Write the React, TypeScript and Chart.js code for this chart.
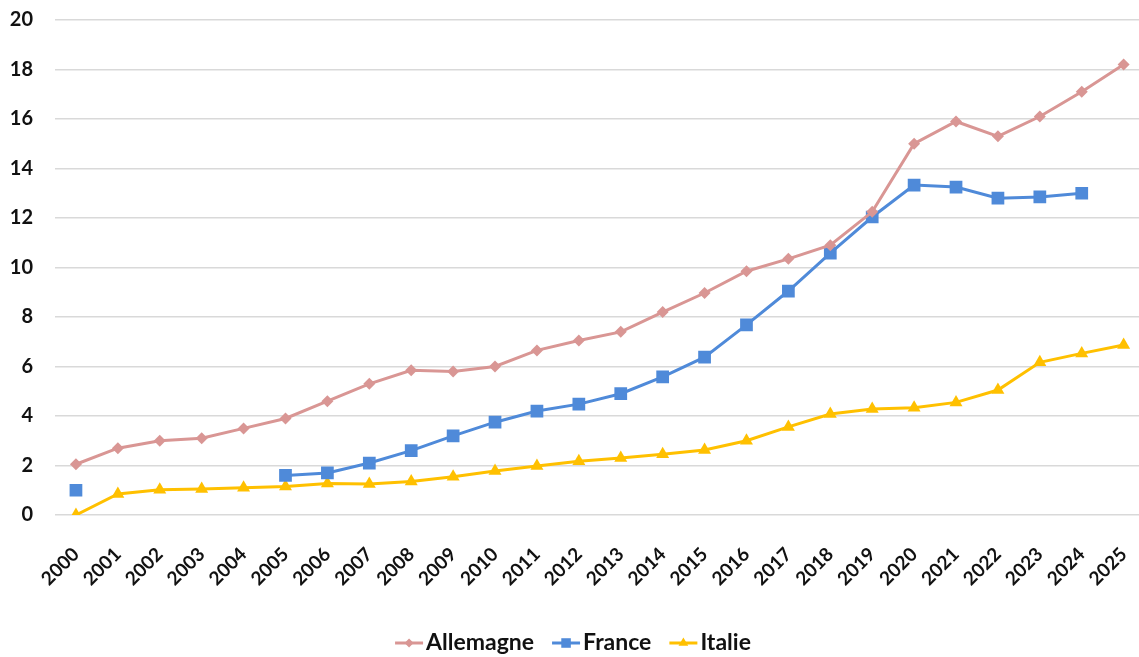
import React, { useEffect, useRef } from "react";
import { Chart, registerables } from "chart.js";

Chart.register(...registerables);

const years: string[] = [
  "2000", "2001", "2002", "2003", "2004", "2005", "2006", "2007", "2008",
  "2009", "2010", "2011", "2012", "2013", "2014", "2015", "2016", "2017",
  "2018", "2019", "2020", "2021", "2022", "2023", "2024", "2025",
];

const allemagne: (number | null)[] = [
  2.05, 2.7, 3.0, 3.1, 3.5, 3.9, 4.6, 5.3, 5.85, 5.8, 6.0, 6.65, 7.05, 7.4,
  8.2, 8.97, 9.85, 10.35, 10.9, 12.25, 15.0, 15.9, 15.3, 16.1, 17.1, 18.2,
];

const france: (number | null)[] = [
  1.0, null, null, null, null, 1.6, 1.7, 2.1, 2.6, 3.2, 3.75, 4.2, 4.48, 4.9,
  5.58, 6.38, 7.68, 9.05, 10.58, 12.04, 13.33, 13.25, 12.8, 12.85, 13.0, null,
];

const italie: (number | null)[] = [
  0, 0.85, 1.02, 1.05, 1.1, 1.15, 1.27, 1.25, 1.35, 1.55, 1.78, 1.98, 2.17,
  2.3, 2.45, 2.63, 3.0, 3.56, 4.08, 4.28, 4.33, 4.55, 5.05, 6.17, 6.53, 6.87,
];

const yTicks: number[] = [0, 2, 4, 6, 8, 10, 12, 14, 16, 18, 20];

const seriesNames = ["Allemagne", "France", "Italie"];
const seriesColors = ["#D99694", "#4F8AD9", "#FFC000"];
const seriesMarkers = ["rectRot", "rect", "triangle"];
const seriesRadius = [6, 9, 7.5];

const FONT = "Lato, 'Open Sans', sans-serif";

function drawMarker(ctx: CanvasRenderingContext2D, style: string, x: number, y: number, r: number) {
  ctx.beginPath();
  if (style === "rectRot") {
    ctx.moveTo(x, y - r);
    ctx.lineTo(x + r, y);
    ctx.lineTo(x, y + r);
    ctx.lineTo(x - r, y);
  } else if (style === "rect") {
    const h = r * Math.SQRT1_2;
    ctx.rect(x - h, y - h, 2 * h, 2 * h);
  } else {
    for (let i = 0; i < 3; i++) {
      const a = -Math.PI / 2 + (i * 2 * Math.PI) / 3;
      const px = x + Math.cos(a) * r;
      const py = y + Math.sin(a) * r;
      if (i === 0) ctx.moveTo(px, py);
      else ctx.lineTo(px, py);
    }
  }
  ctx.closePath();
  ctx.fill();
}

// Legend with a short line segment and the series marker in front of each name
const lineLegend = {
  id: "lineLegend",
  afterDraw(chart: any, _args: any, opts: any) {
    const ctx: CanvasRenderingContext2D = chart.ctx;
    ctx.save();
    ctx.font = `bold ${opts.fontSize}px ${FONT}`;
    ctx.textBaseline = "middle";
    const iconW = opts.iconWidth;
    const gap = opts.iconGap;
    const itemGap = opts.itemGap;
    const widths = seriesNames.map((n) => iconW + gap + ctx.measureText(n).width);
    const total = widths.reduce((a, b) => a + b, 0) + itemGap * (seriesNames.length - 1);
    let x = opts.centerX - total / 2;
    const y = opts.y;
    seriesNames.forEach((name, i) => {
      ctx.strokeStyle = seriesColors[i];
      ctx.fillStyle = seriesColors[i];
      ctx.lineWidth = 3;
      ctx.beginPath();
      ctx.moveTo(x, y);
      ctx.lineTo(x + iconW, y);
      ctx.stroke();
      drawMarker(ctx, seriesMarkers[i], x + iconW / 2, y, seriesRadius[i] * 0.75);
      ctx.fillStyle = "#111";
      ctx.textAlign = "left";
      ctx.fillText(name, x + iconW + gap, y);
      x += widths[i] + itemGap;
    });
    ctx.restore();
  },
};

export default function App() {
  const canvasRef = useRef<HTMLCanvasElement | null>(null);

  useEffect(() => {
    if (!canvasRef.current) return;
    const data = [allemagne, france, italie];
    const chart = new Chart(canvasRef.current, {
      type: "line",
      data: {
        labels: years,
        datasets: seriesNames.map((name, i) => ({
          label: name,
          data: data[i],
          borderColor: seriesColors[i],
          backgroundColor: seriesColors[i],
          borderWidth: 3,
          pointStyle: seriesMarkers[i] as any,
          pointRadius: seriesRadius[i],
          pointBorderWidth: 0,
          pointBackgroundColor: seriesColors[i],
          pointBorderColor: seriesColors[i],
          spanGaps: false,
          tension: 0,
        })),
      },
      options: {
        responsive: false,
        animation: false,
        layout: { padding: { left: 0, right: 12, top: 20, bottom: 0 } },
        plugins: {
          legend: { display: false },
          tooltip: { enabled: false },
          lineLegend: { centerX: 573, y: 643, fontSize: 23, iconWidth: 28, iconGap: 3, itemGap: 18 },
        } as any,
        scales: {
          x: {
            type: "category",
            offset: true,
            grid: { display: false },
            border: { display: false },
            ticks: {
              autoSkip: false,
              minRotation: 45,
              maxRotation: 45,
              padding: 20,
              color: "#111",
              font: { family: FONT, size: 19, weight: "bold" },
            },
            afterFit(scale: any) {
              scale.height = 142;
            },
          },
          y: {
            min: 0,
            max: 20,
            afterBuildTicks(scale: any) {
              scale.ticks = yTicks.map((v) => ({ value: v }));
            },
            grid: {
              color: "#d9d9d9",
              lineWidth: 1.5,
              drawTicks: true,
              tickLength: 20,
              tickColor: "rgba(0,0,0,0)",
            },
            border: { display: false },
            ticks: {
              padding: 2,
              color: "#111",
              font: { family: FONT, size: 20, weight: "bold" },
            },
            afterFit(scale: any) {
              scale.width = 55;
            },
          },
        },
      },
      plugins: [lineLegend],
    });
    return () => chart.destroy();
  }, []);

  return (
    <div
      style={{
        position: "fixed",
        left: 0,
        top: 0,
        width: 1139,
        height: 657,
        overflow: "hidden",
        background: "#fff",
      }}
    >
      <canvas ref={canvasRef} width={1160} height={657} style={{ display: "block" }} />
    </div>
  );
}
